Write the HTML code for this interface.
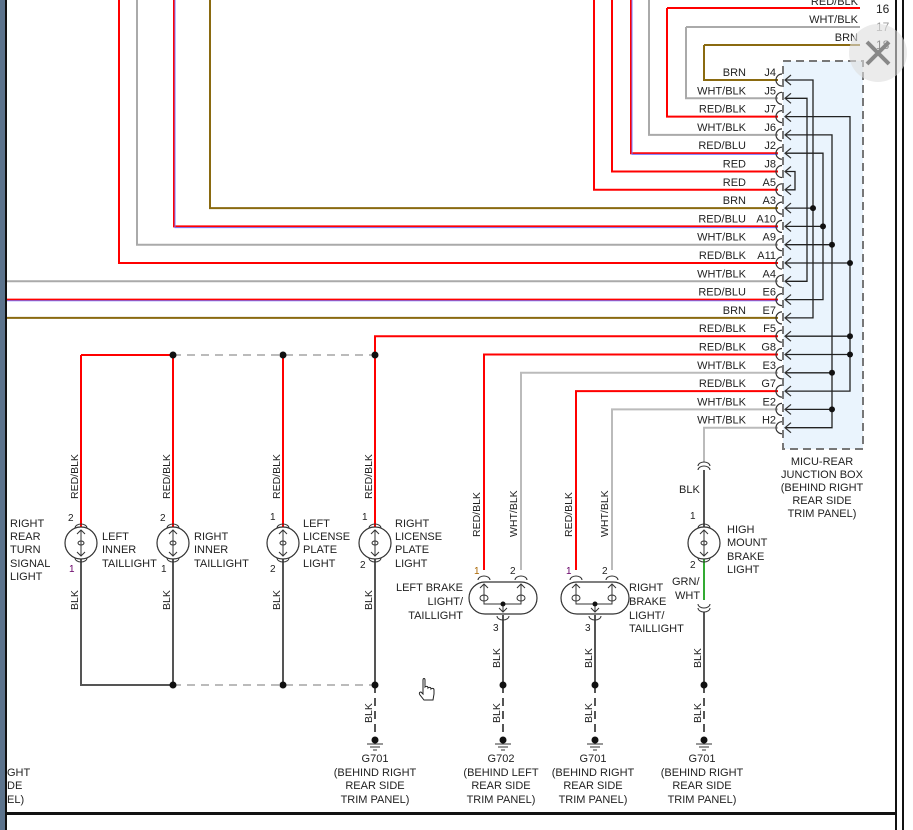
<!DOCTYPE html>
<html><head><meta charset="utf-8"><style>
html,body{margin:0;padding:0;background:#fff;}
svg{display:block;font-family:"Liberation Sans",sans-serif;font-size:11px;}
</style></head><body>
<svg width="913" height="830" viewBox="0 0 913 830" xmlns="http://www.w3.org/2000/svg">
<rect x="0" y="0" width="6" height="830" fill="#5c738c"/>
<rect x="5" y="0" width="2" height="830" fill="#111"/>
<rect x="6" y="812" width="890" height="3" fill="#111"/>
<rect x="895" y="0" width="2" height="830" fill="#111"/>
<rect x="902" y="0" width="2" height="830" fill="#111"/>
<!-- junction box -->
<rect x="783" y="61" width="80" height="388" fill="#eaf4fd" stroke="#777" stroke-width="2" stroke-dasharray="8,5"/>
<g fill="none" stroke-width="2">
<!-- top wires -->
<path d="M667 8H860" stroke="#f00"/><path d="M667 8V116.6H778" stroke="#f00"/>
<path d="M686 27H860" stroke="#aaa"/><path d="M686 27V98.3H778" stroke="#aaa"/>
<path d="M704 45H860V45" stroke="#8a6a10"/><path d="M704 45V80H778" stroke="#8a6a10"/>
<path d="M649 0V134.9H778" stroke="#aaa"/>
<path d="M631 0V153.2H778" stroke="#f00"/><path d="M632 0V154.4H778" stroke="#77f" stroke-width="1"/>
<path d="M612 0V171.5H778" stroke="#f00"/>
<path d="M594 0V189.8H778" stroke="#f00"/>
<path d="M210 0V208.1H778" stroke="#8a6a10"/>
<path d="M174 0V226.4H778" stroke="#f00"/><path d="M175 0V227.6H778" stroke="#77f" stroke-width="1"/>
<path d="M137 0V244.7H778" stroke="#aaa"/>
<path d="M119 0V263H778" stroke="#f00"/>
<path d="M7 281.3H778" stroke="#aaa"/>
<path d="M7 299.6H778" stroke="#f00"/><path d="M7 300.8H778" stroke="#77f" stroke-width="1"/>
<path d="M7 317.9H778" stroke="#8a6a10"/>
<path d="M375 355V336.2H778" stroke="#f00"/>
<path d="M484 570V354.5H778" stroke="#f00"/>
<path d="M521 570V372.8H778" stroke="#bbb"/>
<path d="M576 570V391.1H778" stroke="#f00"/>
<path d="M612 570V409.4H778" stroke="#bbb"/>
<path d="M704 462V427.7H778" stroke="#bbb"/>
</g>
<!-- internal box lines -->
<g fill="none" stroke="#222" stroke-width="1.3">
<path d="M786 80H813V317.9H786"/><path d="M786 208.1H813"/>
<path d="M786 98.3H807V281.3H786"/>
<path d="M786 116.6H850V391.1H786"/><path d="M786 263H850M786 336.2H850M786 354.5H850"/>
<path d="M786 134.9H832V427.7H786"/><path d="M786 244.7H832M786 372.8H832M786 409.4H832"/>
<path d="M786 153.2H823V299.6H786"/><path d="M786 226.4H823"/>
<path d="M786 171.5H795V189.8H786"/>
</g>
<g fill="#111">
<circle cx="813" cy="208.1" r="3"/><circle cx="823" cy="226.4" r="3"/><circle cx="832" cy="244.7" r="3"/>
<circle cx="850" cy="263" r="3"/><circle cx="850" cy="336.2" r="3"/><circle cx="850" cy="354.5" r="3"/>
<circle cx="832" cy="372.8" r="3"/><circle cx="832" cy="409.4" r="3"/>
</g>
<!-- connector symbols -->
<g fill="none" stroke="#333" stroke-width="1.2" id="cs">
<path d="M782 74a6 6 0 0 0 0 12M791 75l-6 5 6 5"/>
<path d="M782 92.3a6 6 0 0 0 0 12M791 93.3l-6 5 6 5"/>
<path d="M782 110.6a6 6 0 0 0 0 12M791 111.6l-6 5 6 5"/>
<path d="M782 128.9a6 6 0 0 0 0 12M791 129.9l-6 5 6 5"/>
<path d="M782 147.2a6 6 0 0 0 0 12M791 148.2l-6 5 6 5"/>
<path d="M782 165.5a6 6 0 0 0 0 12M791 166.5l-6 5 6 5"/>
<path d="M782 183.8a6 6 0 0 0 0 12M791 184.8l-6 5 6 5"/>
<path d="M782 202.1a6 6 0 0 0 0 12M791 203.1l-6 5 6 5"/>
<path d="M782 220.4a6 6 0 0 0 0 12M791 221.4l-6 5 6 5"/>
<path d="M782 238.7a6 6 0 0 0 0 12M791 239.7l-6 5 6 5"/>
<path d="M782 257a6 6 0 0 0 0 12M791 258l-6 5 6 5"/>
<path d="M782 275.3a6 6 0 0 0 0 12M791 276.3l-6 5 6 5"/>
<path d="M782 293.6a6 6 0 0 0 0 12M791 294.6l-6 5 6 5"/>
<path d="M782 311.9a6 6 0 0 0 0 12M791 312.9l-6 5 6 5"/>
<path d="M782 330.2a6 6 0 0 0 0 12M791 331.2l-6 5 6 5"/>
<path d="M782 348.5a6 6 0 0 0 0 12M791 349.5l-6 5 6 5"/>
<path d="M782 366.8a6 6 0 0 0 0 12M791 367.8l-6 5 6 5"/>
<path d="M782 385.1a6 6 0 0 0 0 12M791 386.1l-6 5 6 5"/>
<path d="M782 403.4a6 6 0 0 0 0 12M791 404.4l-6 5 6 5"/>
<path d="M782 421.7a6 6 0 0 0 0 12M791 422.7l-6 5 6 5"/>
</g>
<!-- labels -->
<g fill="#222" text-anchor="end">
<text x="858" y="5">RED/BLK</text><text x="858" y="23">WHT/BLK</text><text x="858" y="41">BRN</text>
<text x="746" y="76">BRN</text><text x="776" y="76">J4</text>
<text x="746" y="94.3">WHT/BLK</text><text x="776" y="94.3">J5</text>
<text x="746" y="112.6">RED/BLK</text><text x="776" y="112.6">J7</text>
<text x="746" y="130.9">WHT/BLK</text><text x="776" y="130.9">J6</text>
<text x="746" y="149.2">RED/BLU</text><text x="776" y="149.2">J2</text>
<text x="746" y="167.5">RED</text><text x="776" y="167.5">J8</text>
<text x="746" y="185.8">RED</text><text x="776" y="185.8">A5</text>
<text x="746" y="204.1">BRN</text><text x="776" y="204.1">A3</text>
<text x="746" y="222.4">RED/BLU</text><text x="776" y="222.4">A10</text>
<text x="746" y="240.7">WHT/BLK</text><text x="776" y="240.7">A9</text>
<text x="746" y="259">RED/BLK</text><text x="776" y="259">A11</text>
<text x="746" y="277.3">WHT/BLK</text><text x="776" y="277.3">A4</text>
<text x="746" y="295.6">RED/BLU</text><text x="776" y="295.6">E6</text>
<text x="746" y="313.9">BRN</text><text x="776" y="313.9">E7</text>
<text x="746" y="332.2">RED/BLK</text><text x="776" y="332.2">F5</text>
<text x="746" y="350.5">RED/BLK</text><text x="776" y="350.5">G8</text>
<text x="746" y="368.8">WHT/BLK</text><text x="776" y="368.8">E3</text>
<text x="746" y="387.1">RED/BLK</text><text x="776" y="387.1">G7</text>
<text x="746" y="405.4">WHT/BLK</text><text x="776" y="405.4">E2</text>
<text x="746" y="423.7">WHT/BLK</text><text x="776" y="423.7">H2</text>
</g>
<g fill="#222" font-size="12"><text x="876" y="13">16</text><text x="876" y="31" fill="#999">17</text><text x="876" y="49">18</text></g>
<g fill="#222" text-anchor="middle">
<text x="822" y="465">MICU-REAR</text><text x="822" y="478">JUNCTION BOX</text><text x="822" y="491">(BEHIND RIGHT</text><text x="822" y="504">REAR SIDE</text><text x="822" y="517">TRIM PANEL)</text>
</g>
<!-- left lamp section -->
<g fill="none" stroke-width="2">
<path d="M81 355H173" stroke="#f00"/>
<path d="M173 355H375" stroke="#bbb" stroke-dasharray="8,6"/>
<path d="M81 355V528M173 355V528M283 355V528M375 355V528" stroke="#f00"/>
<path d="M81 558V685H173M173 558V685M283 558V685M375 558V685" stroke="#555"/>
<path d="M173 685H375" stroke="#bbb" stroke-dasharray="8,6"/>
<path d="M375 685V740" stroke="#555" stroke-dasharray="8,5"/>
<path d="M503 615V685M595 615V685M704 612V685" stroke="#555"/>
<path d="M503 685V740M595 685V740M704 685V740" stroke="#555" stroke-dasharray="8,5"/>
<path d="M704 470V528" stroke="#555"/>
<path d="M704 558V600" stroke="#3a3"/>
</g>
<g fill="#111">
<circle cx="173" cy="355" r="3.5"/><circle cx="283" cy="355" r="3.5"/><circle cx="375" cy="355" r="3.5"/>
<circle cx="173" cy="685" r="3.5"/><circle cx="283" cy="685" r="3.5"/><circle cx="375" cy="685" r="3.5"/>
<circle cx="503" cy="685" r="3.5"/><circle cx="595" cy="685" r="3.5"/><circle cx="704" cy="685" r="3.5"/>
<circle cx="375" cy="740" r="3.5"/><circle cx="503" cy="740" r="3.5"/><circle cx="595" cy="740" r="3.5"/><circle cx="704" cy="740" r="3.5"/>
</g>
<g stroke="#333" stroke-width="1" fill="none">
<path d="M367 744h16M370 747h10M373 750h4"/><path d="M495 744h16M498 747h10M501 750h4"/>
<path d="M587 744h16M590 747h10M593 750h4"/><path d="M696 744h16M699 747h10M702 750h4"/>
</g>
<!-- lamps -->
<g fill="#fff" stroke="#333" stroke-width="1.2">
<circle cx="81" cy="543" r="16"/><circle cx="173" cy="543" r="16"/><circle cx="283" cy="543" r="16"/><circle cx="375" cy="543" r="16"/><circle cx="704" cy="543" r="16"/>
<rect x="469" y="582" width="68" height="32" rx="16"/><rect x="561" y="582" width="68" height="32" rx="16"/>
</g>
<g fill="none" stroke="#333" stroke-width="1">
<path d="M75 528a6 4 0 0 1 12 0M75 558a6 4 0 0 0 12 0M81 530V556M77 534l4-4 4 4M77 552l4 4 4-4"/><ellipse cx="81" cy="543" rx="3" ry="2"/>
<path d="M167 528a6 4 0 0 1 12 0M167 558a6 4 0 0 0 12 0M173 530V556M169 534l4-4 4 4M169 552l4 4 4-4"/><ellipse cx="173" cy="543" rx="3" ry="2"/>
<path d="M277 528a6 4 0 0 1 12 0M277 558a6 4 0 0 0 12 0M283 530V556M279 534l4-4 4 4M279 552l4 4 4-4"/><ellipse cx="283" cy="543" rx="3" ry="2"/>
<path d="M369 528a6 4 0 0 1 12 0M369 558a6 4 0 0 0 12 0M375 530V556M371 534l4-4 4 4M371 552l4 4 4-4"/><ellipse cx="375" cy="543" rx="3" ry="2"/>
<path d="M698 528a6 4 0 0 1 12 0M698 558a6 4 0 0 0 12 0M704 530V556M700 534l4-4 4 4M700 552l4 4 4-4"/><ellipse cx="704" cy="543" rx="3" ry="2"/>
<path d="M698 470a6 4 0 0 1 12 0M698 466a6 4 0 0 1 12 0M698 604a6 4 0 0 0 12 0M698 608a6 4 0 0 0 12 0"/>
<path d="M478 580a6 4 0 0 1 12 0M515 580a6 4 0 0 1 12 0M497 616a6 4 0 0 0 12 0M484 584V604H521V584M503 604V612M499 608l4 4 4-4M480 588l4-4 4 4M517 588l4-4 4 4"/><ellipse cx="484" cy="598" rx="4" ry="3"/><ellipse cx="521" cy="598" rx="4" ry="3"/>
<path d="M570 580a6 4 0 0 1 12 0M606 580a6 4 0 0 1 12 0M589 616a6 4 0 0 0 12 0M576 584V604H612V584M595 604V612M591 608l4 4 4-4M572 588l4-4 4 4M608 588l4-4 4 4"/><ellipse cx="576" cy="598" rx="4" ry="3"/><ellipse cx="612" cy="598" rx="4" ry="3"/>
</g>
<circle cx="503" cy="604" r="2.5" fill="#111"/><circle cx="595" cy="604" r="2.5" fill="#111"/>
<!-- vertical labels -->
<g fill="#222" font-size="10.5">
<text transform="translate(78,499) rotate(-90)">RED/BLK</text><text transform="translate(170,499) rotate(-90)">RED/BLK</text>
<text transform="translate(280,499) rotate(-90)">RED/BLK</text><text transform="translate(372,499) rotate(-90)">RED/BLK</text>
<text transform="translate(480,537) rotate(-90)">RED/BLK</text><text transform="translate(517,537) rotate(-90)">WHT/BLK</text>
<text transform="translate(572,537) rotate(-90)">RED/BLK</text><text transform="translate(608,537) rotate(-90)">WHT/BLK</text>
<text transform="translate(78,610) rotate(-90)">BLK</text><text transform="translate(170,610) rotate(-90)">BLK</text>
<text transform="translate(280,610) rotate(-90)">BLK</text><text transform="translate(372,610) rotate(-90)">BLK</text>
<text transform="translate(372,723) rotate(-90)">BLK</text>
<text transform="translate(500,668) rotate(-90)">BLK</text><text transform="translate(592,668) rotate(-90)">BLK</text><text transform="translate(701,668) rotate(-90)">BLK</text>
<text transform="translate(500,723) rotate(-90)">BLK</text><text transform="translate(592,723) rotate(-90)">BLK</text><text transform="translate(701,723) rotate(-90)">BLK</text>
</g>
<g fill="#222" font-size="10">
<text x="68" y="521">2</text><text x="160" y="521">2</text><text x="270" y="520">1</text><text x="362" y="520">1</text>
<text x="69" y="572" fill="#606">1</text><text x="161" y="572">1</text><text x="270" y="572">2</text><text x="360" y="568">2</text>
<text x="474" y="574" fill="#a60">1</text><text x="510" y="574">2</text><text x="566" y="574" fill="#606">1</text><text x="602" y="574">2</text>
<text x="493" y="631">3</text><text x="585" y="631">3</text><text x="690" y="519">1</text><text x="690" y="568">2</text>
</g>
<g fill="#222">
<text x="10" y="527">RIGHT</text><text x="10" y="540">REAR</text><text x="10" y="553">TURN</text><text x="10" y="567">SIGNAL</text><text x="10" y="580">LIGHT</text>
<text x="102" y="540">LEFT</text><text x="102" y="553">INNER</text><text x="102" y="567">TAILLIGHT</text>
<text x="194" y="540">RIGHT</text><text x="194" y="553">INNER</text><text x="194" y="567">TAILLIGHT</text>
<text x="303" y="527">LEFT</text><text x="303" y="540">LICENSE</text><text x="303" y="553">PLATE</text><text x="303" y="567">LIGHT</text>
<text x="395" y="527">RIGHT</text><text x="395" y="540">LICENSE</text><text x="395" y="553">PLATE</text><text x="395" y="567">LIGHT</text>
<text x="629" y="591">RIGHT</text><text x="629" y="605">BRAKE</text><text x="629" y="619">LIGHT/</text><text x="629" y="632">TAILLIGHT</text>
<text x="727" y="533">HIGH</text><text x="727" y="546">MOUNT</text><text x="727" y="560">BRAKE</text><text x="727" y="573">LIGHT</text>
<text x="679" y="493">BLK</text>
<text x="672" y="585">GRN/</text><text x="675" y="599">WHT</text>
</g>
<g fill="#222" text-anchor="end">
<text x="463" y="591">LEFT BRAKE</text><text x="463" y="605">LIGHT/</text><text x="463" y="619">TAILLIGHT</text>
</g>
<g fill="#222" text-anchor="middle">
<text x="375" y="762">G701</text><text x="375" y="776">(BEHIND RIGHT</text><text x="375" y="789">REAR SIDE</text><text x="375" y="803">TRIM PANEL)</text>
<text x="501" y="762">G702</text><text x="501" y="776">(BEHIND LEFT</text><text x="501" y="789">REAR SIDE</text><text x="501" y="803">TRIM PANEL)</text>
<text x="593" y="762">G701</text><text x="593" y="776">(BEHIND RIGHT</text><text x="593" y="789">REAR SIDE</text><text x="593" y="803">TRIM PANEL)</text>
<text x="702" y="762">G701</text><text x="702" y="776">(BEHIND RIGHT</text><text x="702" y="789">REAR SIDE</text><text x="702" y="803">TRIM PANEL)</text>
</g>
<g fill="#222"><text x="7" y="776">GHT</text><text x="7" y="789">DE</text><text x="7" y="803">EL)</text></g>
<!-- close button -->
<circle cx="878" cy="53" r="29" fill="#ddd" fill-opacity="0.6"/>
<path d="M867 42L889 64M889 42L867 64" stroke="#888" stroke-width="4"/>
<!-- cursor -->
<path d="M423 680v14l-2-2c-2 0-2 2-1 3l4 5h9l1-6v-4c0-2-2-2-3-1 0-2-2-2-3-1 0-2-2-2-3-1v-7c0-2-2-2-2 0z" fill="#fff" stroke="#222" stroke-width="1"/>
</svg>
</body></html>
